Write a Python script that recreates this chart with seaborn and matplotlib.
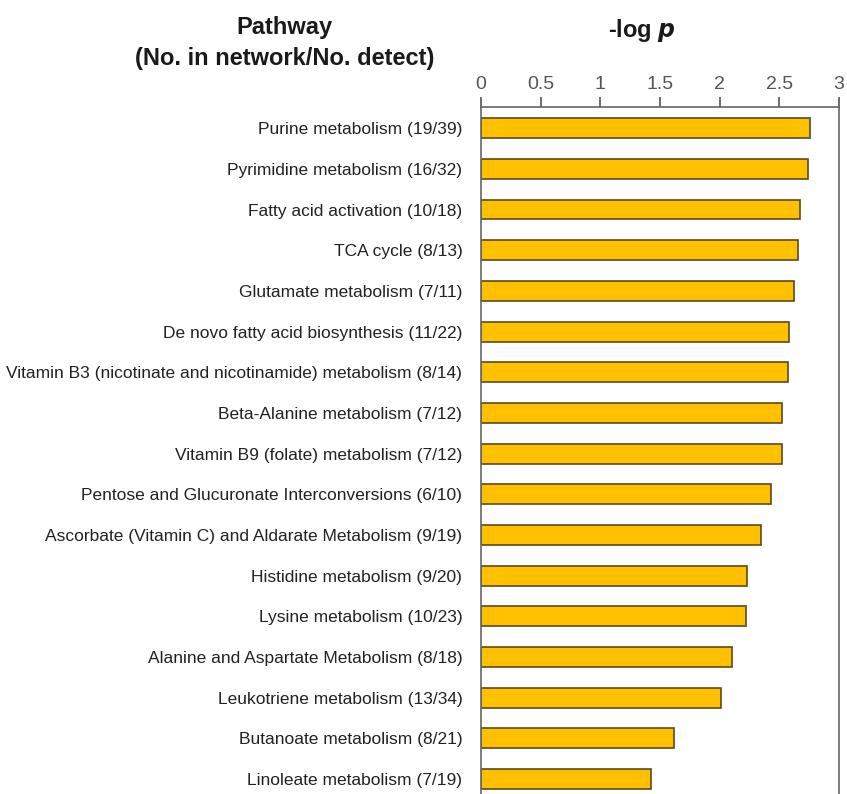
import matplotlib
matplotlib.use("Agg")
import matplotlib.pyplot as plt
import seaborn as sns
import pandas as pd

pathways = [
    "Purine metabolism (19/39)",
    "Pyrimidine metabolism (16/32)",
    "Fatty acid activation (10/18)",
    "TCA cycle (8/13)",
    "Glutamate metabolism (7/11)",
    "De novo fatty acid biosynthesis (11/22)",
    "Vitamin B3 (nicotinate and nicotinamide) metabolism (8/14)",
    "Beta-Alanine metabolism (7/12)",
    "Vitamin B9 (folate) metabolism (7/12)",
    "Pentose and Glucuronate Interconversions (6/10)",
    "Ascorbate (Vitamin C) and Aldarate Metabolism (9/19)",
    "Histidine metabolism (9/20)",
    "Lysine metabolism (10/23)",
    "Alanine and Aspartate Metabolism (8/18)",
    "Leukotriene metabolism (13/34)",
    "Butanoate metabolism (8/21)",
    "Linoleate metabolism (7/19)",
]
neg_log_p = [2.76, 2.74, 2.67, 2.66, 2.62, 2.58, 2.57, 2.52, 2.52,
             2.43, 2.35, 2.23, 2.22, 2.10, 2.01, 1.62, 1.42]
x_ticks = [0, 0.5, 1, 1.5, 2, 2.5, 3]
x_tick_labels = ["0", "0.5", "1", "1.5", "2", "2.5", "3"]

df = pd.DataFrame({"pathway": pathways, "value": neg_log_p})

sns.set_theme(style="white")
plt.rcParams["font.family"] = ["Liberation Sans", "DejaVu Sans"]

fig = plt.figure(figsize=(8.47, 7.94), dpi=100)
ax = fig.add_axes([0.568, 0.0, 0.4226, 0.8652])

sns.barplot(data=df, y="pathway", x="value", orient="h", color="#FFC000",
            width=0.49, edgecolor="#5b4a1c", linewidth=1.2, saturation=1, ax=ax)

ax.set_xlim(0, 3)
ax.set_ylim(16.37, -0.52)
ax.xaxis.tick_top()
ax.set_xticks(x_ticks)
ax.set_xticklabels(x_tick_labels, fontsize=14, color="#555555")
ax.tick_params(axis="x", direction="out", length=7, width=1.2, color="#555555",
               pad=3, top=True, bottom=False)
ax.tick_params(axis="y", length=0, pad=13.5, labelsize=12.5, labelcolor="#222222")
ax.set_xlabel("")
ax.set_ylabel("")
for side in ["top", "left", "right"]:
    ax.spines[side].set_visible(True)
    ax.spines[side].set_color("#666666")
    ax.spines[side].set_linewidth(1.2)
ax.spines["bottom"].set_visible(False)

fig.text(0.336, 0.965, "Pathway", ha="center", va="center",
         fontsize=17, fontweight="bold", color="#1a1a1a")
fig.text(0.336, 0.926, "(No. in network/No. detect)", ha="center", va="center",
         fontsize=17, fontweight="bold", color="#1a1a1a")
fig.text(0.758, 0.962, r"-log $\bfit{p}$", ha="center", va="center",
         fontsize=17, fontweight="bold", color="#1a1a1a")

fig.savefig("out.png", dpi=100)
